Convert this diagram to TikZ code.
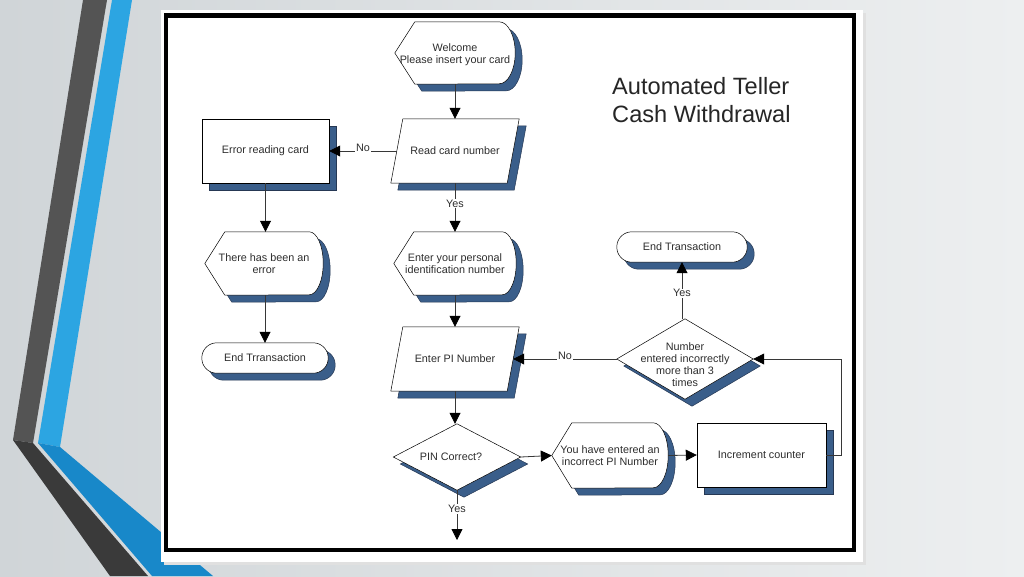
\documentclass[tikz,border=0pt]{standalone}
\usepackage{fontspec}
\setmainfont{Liberation Sans}
\usetikzlibrary{arrows.meta,backgrounds,calc}

\definecolor{shadowblue}{RGB}{58,94,138}
\definecolor{shadowedge}{RGB}{38,56,84}
\definecolor{txt}{RGB}{45,45,45}
\definecolor{lnc}{RGB}{55,55,55}
\definecolor{darkband}{RGB}{84,84,84}
\definecolor{darkbandlow}{RGB}{58,58,58}
\definecolor{blueband}{RGB}{44,165,226}
\definecolor{bluebandlow}{RGB}{24,136,201}
\definecolor{bgL}{RGB}{208,213,216}
\definecolor{bgR}{RGB}{237,239,240}
\definecolor{titlec}{RGB}{38,38,38}

\tikzset{
  lbl/.style={inner sep=0pt, align=center, font=\fontsize{10.8}{12}\selectfont, text=txt},
  shp/.style={draw=black, line width=0.5pt, fill=white},
  shd/.style={draw=shadowedge, line width=0.5pt, fill=shadowblue},
  arr/.style={draw=lnc, line width=0.8pt, -{Triangle[width=11pt,length=11pt,color=black]}},
  edgelbl/.style={fill=white, inner sep=1pt, font=\fontsize{10.8}{12}\selectfont, text=txt},
}

% rectangle with shadow
\newcommand\drawRectShape[1]{%
  \draw[shd] ([xshift=7pt,yshift=-7pt]#1.north west) rectangle ([xshift=7pt,yshift=-7pt]#1.south east);
  \draw[shp] (#1.north west) rectangle (#1.south east);}
% terminal (stadium) with shadow
\newcommand\drawTermShape[1]{%
  \draw[shd,rounded corners=15pt] ([xshift=7pt,yshift=-7pt]#1.north west) rectangle ([xshift=7pt,yshift=-7pt]#1.south east);
  \draw[shp,rounded corners=15pt] (#1.north west) rectangle (#1.south east);}
% parallelogram: #2 = half slant
\newcommand\drawParaShape[2]{%
  \draw[shd] ([xshift=7pt+#2,yshift=-7pt]#1.north west) -- ([xshift=7pt+#2,yshift=-7pt]#1.north east)
     -- ([xshift=7pt-#2,yshift=-7pt]#1.south east) -- ([xshift=7pt-#2,yshift=-7pt]#1.south west) -- cycle;
  \draw[shp] ([xshift=#2]#1.north west) -- ([xshift=#2]#1.north east)
     -- ([xshift=-#2]#1.south east) -- ([xshift=-#2]#1.south west) -- cycle;}
% diamond
\newcommand\drawDiaShape[1]{%
  \draw[shd] ([xshift=7pt,yshift=-7pt]#1.west) -- ([xshift=7pt,yshift=-7pt]#1.north)
     -- ([xshift=7pt,yshift=-7pt]#1.east) -- ([xshift=7pt,yshift=-7pt]#1.south) -- cycle;
  \draw[shp] (#1.west) -- (#1.north) -- (#1.east) -- (#1.south) -- cycle;}
% display shape: #2 point depth, #3 x radius, #4 y radius (half height)
\newcommand\drawDispShape[4]{%
  \draw[shd] ([xshift=7pt,yshift=-7pt]#1.west) -- ([xshift=7pt+#2,yshift=-7pt]#1.north west)
     -- ([xshift=7pt-#3,yshift=-7pt]#1.north east) arc[start angle=90,end angle=-90,x radius=#3,y radius=#4]
     -- ([xshift=7pt+#2,yshift=-7pt]#1.south west) -- cycle;
  \draw[shp] (#1.west) -- ([xshift=#2]#1.north west)
     -- ([xshift=-#3]#1.north east) arc[start angle=90,end angle=-90,x radius=#3,y radius=#4]
     -- ([xshift=#2]#1.south west) -- cycle;}

\begin{document}
\begin{tikzpicture}[x=1pt,y=-1pt]
\useasboundingbox (0,0) rectangle (1024,576);

% ---------- nodes ----------
\node[lbl, minimum width=120pt, minimum height=62pt] (welcome) at (455,53)
  {\raisebox{-2pt}[\height][\depth]{\begin{tabular}{@{}c@{}}Welcome\\Please insert your card\end{tabular}}};
\node[lbl, minimum width=116pt, minimum height=64pt] (readcard) at (455,151) {Read card number};
\node[lbl, minimum width=127pt, minimum height=64pt] (errread) at (265.5,151) {Error reading card};
\node[lbl, minimum width=118pt, minimum height=63pt] (err) at (264,263.5) {There has been an\\error};
\node[lbl, minimum width=126pt, minimum height=30pt] (endtr1) at (265,358) {End Trransaction};
\node[lbl, minimum width=122pt, minimum height=63pt] (pin) at (455,263.5) {Enter your personal\\identification number};
\node[lbl, minimum width=116pt, minimum height=64pt] (enterpi) at (455,359) {Enter PI Number};
\node[lbl, minimum width=127pt, minimum height=66pt] (pinok) at (457,457) {\hspace*{-12pt}PIN Correct?};
\coordinate (yesend) at (457,540);
\node[lbl, minimum width=116pt, minimum height=65pt] (incorrect) at (610,455.5) {You have entered an\\incorrect PI Number};
\node[lbl, minimum width=129pt, minimum height=64pt] (inc) at (761.5,455) {Increment counter};
\node[lbl, minimum width=136pt, minimum height=80pt] (many) at (685,359)
  {\raisebox{-7pt}[\height][\depth]{\begin{tabular}{@{}c@{}}Number\\entered incorrectly\\more than 3\\times\end{tabular}}};
\node[lbl, minimum width=130pt, minimum height=30pt] (endtr2) at (682,247) {End Transaction};
\node[inner sep=0pt, anchor=west, align=left, font=\fontsize{23.6}{28}\selectfont, text=titlec] (title) at (612,100) {Automated Teller\\Cash Withdrawal};

% ---------- background layer ----------
\begin{pgfonlayer}{background}
  \shade[left color=bgL, right color=bgR] (0,0) rectangle (1024,576);
  % decorative bands
  \fill[darkband] (83,0) -- (107,0) -- (33,443) -- (13,440) -- cycle;
  \fill[blueband] (112,0) -- (132,0) -- (60,447) -- (38,443) -- cycle;
  \fill[darkbandlow] (13,440) -- (33,443) -- (148,576) -- (110,576) -- cycle;
  \fill[bluebandlow] (38,443) -- (60,447) -- (213,576) -- (152,576) -- cycle;
  % frame
  \fill[black!12] (164,13) rectangle (866,565);
  \fill[white] (161,10) rectangle (863,562);
  \draw[black, line width=4.5pt] (166,15.5) rectangle (854,550);
  % shapes
  \drawDispShape{welcome}{20pt}{16pt}{31pt}
  \drawParaShape{readcard}{6pt}
  \drawRectShape{errread}
  \drawDispShape{err}{20pt}{14pt}{31.5pt}
  \drawTermShape{endtr1}
  \drawDispShape{pin}{20pt}{14pt}{31.5pt}
  \drawParaShape{enterpi}{6pt}
  \drawDiaShape{pinok}
  \drawDispShape{incorrect}{20pt}{15pt}{32.5pt}
  \drawRectShape{inc}
  \drawDiaShape{many}
  \drawTermShape{endtr2}
\end{pgfonlayer}

% ---------- connectors ----------
\draw[arr] (welcome.south) -- (readcard.north);
\draw[arr] (readcard.west) -- node[edgelbl, yshift=3pt] {No} (errread.east);
\draw[arr] (readcard.south) -- node[edgelbl, pos=0.42] {Yes} (pin.north);
\draw[arr] (errread.south) -- (errread.south |- err.north);
\draw[arr] (err.south -| endtr1.north) -- (endtr1.north);
\draw[arr] (pin.south) -- (enterpi.north);
\draw[arr] (enterpi.south) -- (enterpi.south |- pinok.north);
\draw[arr] (pinok.south) -- node[edgelbl, pos=0.38] {Yes} (yesend);
\draw[arr] (pinok.east) -- (incorrect.west);
\draw[arr] (incorrect.east) -- (inc.west);
\draw[arr] (inc.east) -- ++(15,0) |- (many.east);
\draw[arr] (many.west) -- node[edgelbl, yshift=3pt] {No} (enterpi.east);
\draw[arr] (many.north -| endtr2.south) -- node[edgelbl, pos=0.45] {Yes} (endtr2.south);
\end{tikzpicture}
\end{document}
